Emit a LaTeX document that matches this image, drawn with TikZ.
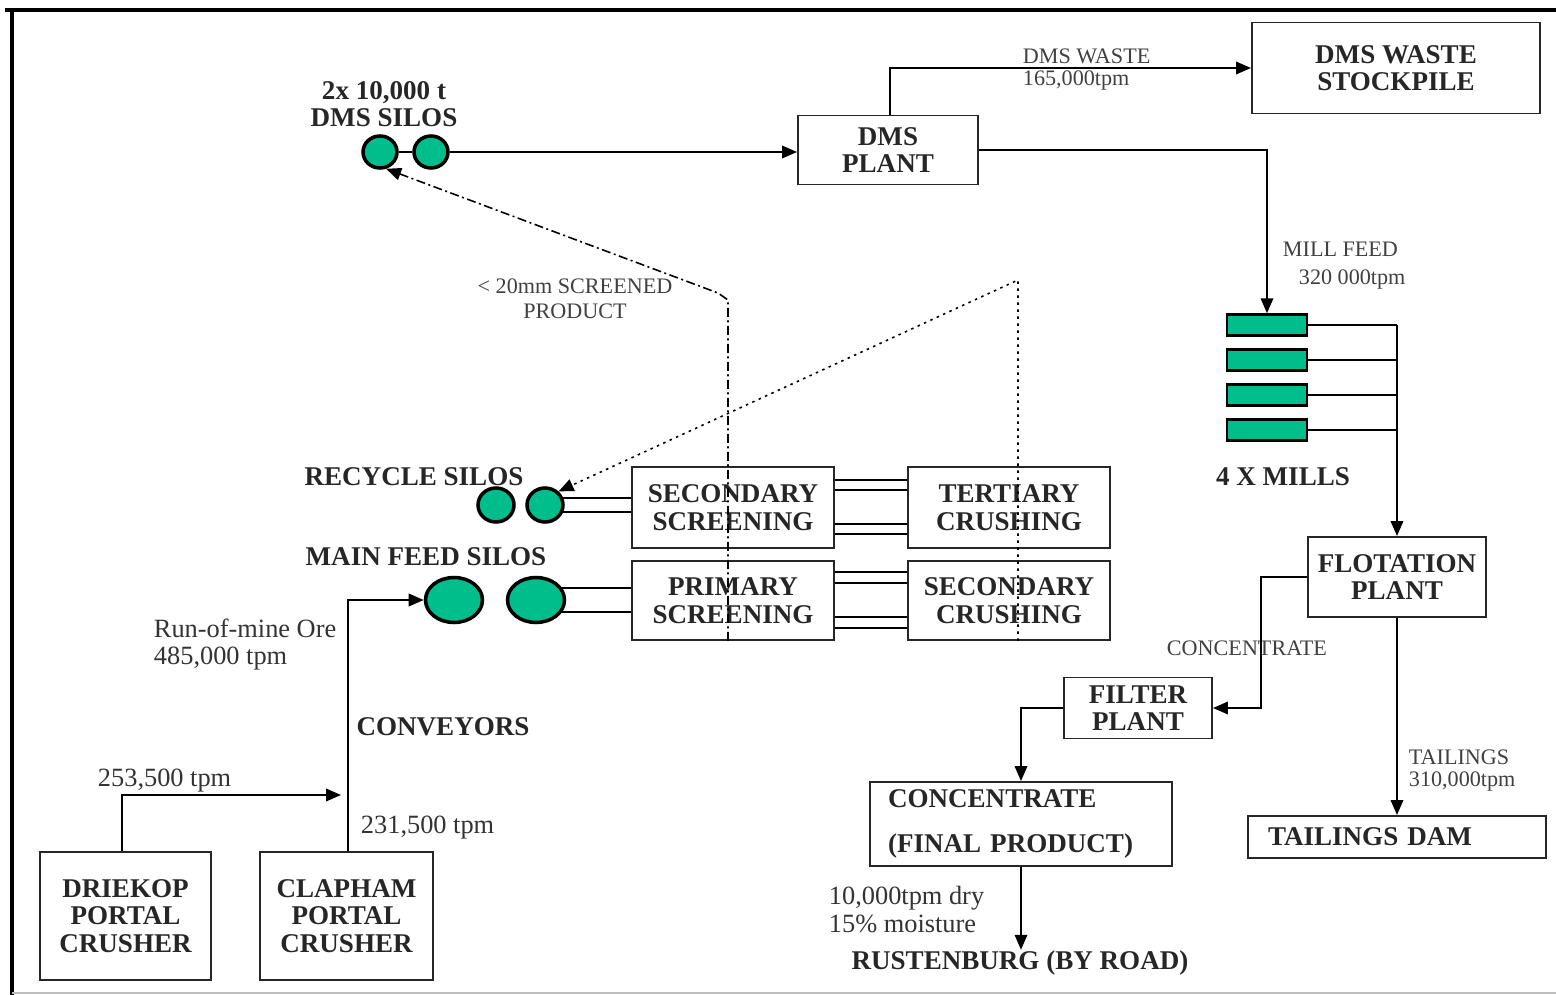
\documentclass[tikz,border=0pt]{standalone}
\usepackage{fontspec}
\setmainfont{Liberation Serif}
\usepackage{tikz}
\usetikzlibrary{shapes,arrows.meta,positioning}

\definecolor{silogreen}{RGB}{0,190,140}
\newcommand{\unitfont}{\bfseries\fontsize{7.7}{7.8}\selectfont}
\newcommand{\flowfont}{\fontsize{6.3}{7}\selectfont}
\newcommand{\tonsfont}{\fontsize{7.5}{8}\selectfont}

\begin{document}
\begin{tikzpicture}[
    x=0.1mm, y=-0.1mm,
    line width=0.55pt,
    >={Triangle[length=1.5mm, width=1.25mm]},
    unitbox/.style={rectangle, draw=black!85, inner sep=0pt, align=center, font=\unitfont, text=black!85},
    silo/.style={ellipse, draw, line width=1pt, fill=silogreen, inner sep=0pt},
    mill/.style={rectangle, draw, line width=0.7pt, fill=silogreen, minimum width=8mm, minimum height=2.1mm, inner sep=0pt},
    heading/.style={font=\unitfont, align=center, text=black!85, inner sep=0pt},
    flowlabel/.style={font=\flowfont, text=black!75, inner sep=0pt, anchor=west},
    tonlabel/.style={font=\tonsfont, text=black!80, inner sep=0pt, anchor=west},
    screened/.style={line width=0.45pt, dash pattern=on 0.9mm off 0.35mm on 0.2mm off 0.35mm},
    recycled/.style={line width=0.45pt, dash pattern=on 0.25mm off 0.45mm}
]
\useasboundingbox (0,0) rectangle (1556,995);

% frame
\draw[line width=0.45mm] (5,10) -- (1556,10);
\draw[line width=0.45mm] (12,10) -- (12,995);
\draw[black!25, line width=0.2mm] (12,993) -- (1556,993);

% plants
\node[unitbox, minimum width=18mm, minimum height=6.9mm] (dmsplant) at (888,150) {DMS\\PLANT};
\node[unitbox, minimum width=28.8mm, minimum height=9.1mm] (wastepile) at (1396,68) {DMS WASTE\\STOCKPILE};
\node[unitbox, minimum width=17.8mm, minimum height=8mm] (flotation) at (1397,577) {FLOTATION\\PLANT};
\node[unitbox, minimum width=29.8mm, minimum height=4.2mm, text width=25.8mm, inner xsep=2mm, align=left] (dam) at (1397,837) {TAILINGS DAM};
\node[unitbox, minimum width=14.8mm, minimum height=6.1mm] (filter) at (1138,708) {FILTER\\PLANT};
\node[unitbox, minimum width=30.2mm, minimum height=8.4mm, text width=26.6mm, inner xsep=1.8mm, align=left] (finalconc) at (1021,824) {CONCENTRATE\\[5pt](FINAL PRODUCT)};
\node[unitbox, minimum width=20.2mm, minimum height=8.1mm] (secscreen) at (733,507.5) {SECONDARY\\SCREENING};
\node[unitbox, minimum width=20.2mm, minimum height=8.1mm] (tertcrush) at (1009,507.5) {TERTIARY\\CRUSHING};
\node[unitbox, minimum width=20.2mm, minimum height=7.9mm] (priscreen) at (733,600.5) {PRIMARY\\SCREENING};
\node[unitbox, minimum width=20.2mm, minimum height=7.9mm] (seccrush) at (1009,600.5) {SECONDARY\\CRUSHING};
\node[unitbox, minimum width=17.1mm, minimum height=12.8mm] (driekop) at (125.5,916) {DRIEKOP\\PORTAL\\CRUSHER};
\node[unitbox, minimum width=17.3mm, minimum height=12.8mm] (clapham) at (346.5,916) {CLAPHAM\\PORTAL\\CRUSHER};

% silos and mills
\node[silo, minimum width=3.4mm, minimum height=3.2mm] (dmsA) at (380,152) {};
\node[silo, minimum width=3.4mm, minimum height=3.2mm] (dmsB) at (431,152) {};
\node[silo, minimum width=3.6mm, minimum height=3.4mm] (recA) at (496,505) {};
\node[silo, minimum width=3.6mm, minimum height=3.4mm] (recB) at (545,505) {};
\node[silo, minimum width=5.7mm, minimum height=4.5mm] (mainA) at (454,600) {};
\node[silo, minimum width=5.7mm, minimum height=4.5mm] (mainB) at (536,600) {};
\foreach \i/\y in {1/325,2/360,3/395,4/430}
    \node[mill] (mill\i) at (1267,\y) {};

% headings
\node[heading] (dmssilolbl) at (384,104) {2x 10,000 t\\DMS SILOS};
\node[heading] (reclbl) at (414,477) {RECYCLE SILOS};
\node[heading] (mainlbl) at (426,557) {MAIN FEED SILOS};
\node[heading] (milllbl) at (1283,477) {4 X MILLS};
\node[heading] (convlbl) at (443,727) {CONVEYORS};
\node[heading] (rustenburg) at (1020,963) {RUSTENBURG (BY ROAD)};

% flow labels
\node[flowlabel] (wastelbl) at (1022,56) {DMS WASTE};
\node[flowlabel] (wastetons) at (1022,80) {165,000tpm};
\node[flowlabel] (feedlbl) at (1282,249) {MILL FEED};
\node[flowlabel] (feedtons) at (1298,279) {320 000tpm};
\node[flowlabel] (conclbl) at (1166,648) {CONCENTRATE};
\node[flowlabel] (taillbl) at (1408,757) {TAILINGS};
\node[flowlabel] (tailtons) at (1408,781) {310,000tpm};
\node[flowlabel, anchor=center] (screenlbl) at (575,286) {< 20mm SCREENED};
\node[flowlabel, anchor=center] (productlbl) at (575,311) {PRODUCT};
\node[tonlabel] (romlbl) at (153,628) {Run-of-mine Ore};
\node[tonlabel] (romtons) at (153,659) {485,000 tpm};
\node[tonlabel] (drietons) at (97,781) {253,500 tpm};
\node[tonlabel] (claptons) at (360,828) {231,500 tpm};
\node[tonlabel] (drylbl) at (828,898) {10,000tpm dry};
\node[tonlabel] (moistlbl) at (828,924) {15\% moisture};

\coordinate (feedjoin) at (341,795);

% connectors
\draw (dmsA) -- (dmsB);
\draw[->] (dmsB) -- (dmsB -| dmsplant.west);
\draw[->] ([xshift=0.2mm]dmsplant.north) |- (wastepile.west);
\draw[->] (dmsplant.east) -| (mill1.north);
\foreach \i in {1,...,4}
    \draw (mill\i.east) -- (mill\i.east -| flotation.north);
\draw[->] (mill1.east -| flotation.north) -- (flotation.north);
\draw[->] (flotation.west) -- ++(-46,0) |- (filter.east);
\draw[->] (flotation.south) -- (dam.north);
\draw[->] (filter.west) -| (finalconc.north);
\draw[->] (finalconc.south) -- (finalconc.south |- rustenburg.north);
\draw[->] ([xshift=-0.35mm]driekop.north) |- (feedjoin);
\draw[->] ([xshift=0.15mm]clapham.north) |- (mainA.west);

\draw (recB.22) -- (recB.22 -| secscreen.west);
\draw (recB.-22) -- (recB.-22 -| secscreen.west);
\draw (mainB.25) -- (mainB.25 -| priscreen.west);
\draw (mainB.-25) -- (mainB.-25 -| priscreen.west);
\foreach \dy in {2.75,1.75,-1.65,-2.65}
    \draw ([yshift=\dy mm]secscreen.east) -- ([yshift=\dy mm]tertcrush.west);
\foreach \dy in {2.85,1.75,-1.65,-2.75}
    \draw ([yshift=\dy mm]priscreen.east) -- ([yshift=\dy mm]seccrush.west);

% recycle streams
\draw[screened, ->] ([xshift=-0.5mm]priscreen.south) -- (728,300) -- (718,293) -- (dmsA.-70);
\draw[recycled, ->] ([xshift=0.9mm]seccrush.south) -- (1018,280) -- (recB.45);
\end{tikzpicture}
\end{document}
